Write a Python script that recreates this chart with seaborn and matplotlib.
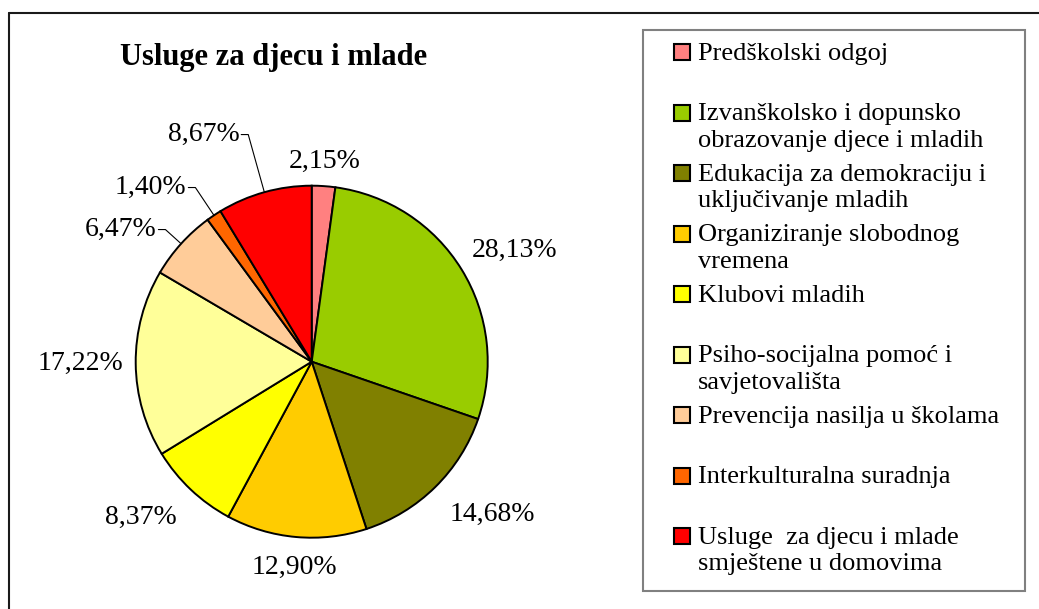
import numpy as np
import matplotlib
matplotlib.use('Agg')
import matplotlib.pyplot as plt
from matplotlib.patches import Rectangle
from matplotlib.lines import Line2D
import seaborn as sns

# ── Data ──────────────────────────────────────────────────────────────────────
title = 'Usluge za djecu i mlade'
categories = [
    'Predškolski odgoj',
    'Izvanškolsko i dopunsko\nobrazovanje djece i mladih',
    'Edukacija za demokraciju i\nuključivanje mladih',
    'Organiziranje slobodnog\nvremena',
    'Klubovi mladih',
    'Psiho-socijalna pomoć i\nsavjetovališta',
    'Prevencija nasilja u školama',
    'Interkulturalna suradnja',
    'Usluge  za djecu i mlade\nsmještene u domovima',
]
shares = [2.15, 28.13, 14.68, 12.90, 8.37, 17.22, 6.47, 1.40, 8.67]
colors = ['#FF8080', '#99CC00', '#808000', '#FFCC00', '#FFFF00',
          '#FFFF99', '#FFCC99', '#FF6600', '#FF0000']

# label placement (in pie radii); last three get leader lines
label_dist = [1.07, 1.07, 1.12, 1.10, 1.12, 1.07, 1.12, 1.19, 1.34]
uses_leader = [False] * 6 + [True] * 3

# ── Style ─────────────────────────────────────────────────────────────────────
sns.set_theme(style='white')
plt.rcParams['font.family'] = ['Liberation Serif', 'DejaVu Serif']
plt.rcParams['text.color'] = 'black'

W, H = 1039, 609
fig = plt.figure(figsize=(W / 100, H / 100), dpi=100)
fig.patch.set_facecolor('white')


def fx(px):
    return px / W


def fy(py):
    return 1 - py / H


# ── Pie ───────────────────────────────────────────────────────────────────────
cx, cy, r = 311.7, 361.7, 176
ax = fig.add_axes([fx(cx - r), fy(cy + r), 2 * r / W, 2 * r / H])
wedges, _ = ax.pie(shares, colors=colors, startangle=90, counterclock=False,
                   wedgeprops=dict(edgecolor='black', linewidth=1.4))

for w, v, d, lead in zip(wedges, shares, label_dist, uses_leader):
    mid = np.deg2rad((w.theta1 + w.theta2) / 2)
    ux, uy = np.cos(mid), np.sin(mid)
    txt = f'{v:.2f}'.replace('.', ',') + '%'
    if lead:
        ex, ey = d * ux, d * uy
        ax.plot([ex - 0.04, ex, ux], [ey, ey, uy], color='black', lw=0.8,
                clip_on=False)
        ax.text(ex - 0.05, ey, txt, ha='right', va='center', fontsize=20,
                color='black', clip_on=False)
    else:
        ha = 'left' if ux > 0.3 else ('right' if ux < -0.3 else 'center')
        va = 'bottom' if uy > 0.3 else ('top' if uy < -0.3 else 'center')
        ax.text(d * ux, d * uy, txt, ha=ha, va=va, fontsize=20, color='black')

ax.set_xlim(-1, 1)
ax.set_ylim(-1, 1)
ax.axis('off')

# ── Title ─────────────────────────────────────────────────────────────────────
fig.text(fx(274), fy(65), title, ha='center', va='baseline',
         fontsize=22, fontweight='bold', color='black')

# ── Legend (Excel-style, evenly spaced slots) ─────────────────────────────────
fig.add_artist(Rectangle((fx(643), fy(591)), fx(1025) - fx(643), fy(30) - fy(591),
                         transform=fig.transFigure, fill=False,
                         edgecolor='#808080', lw=1.5))
for i, (lab, col) in enumerate(zip(categories, colors)):
    yc = 52 + 60.5 * i
    fig.add_artist(Rectangle((fx(674), fy(yc + 8)), 16 / W, 16 / H,
                             transform=fig.transFigure, facecolor=col,
                             edgecolor='black', lw=1.5))
    fig.text(fx(698), fy(yc - 9.3), lab, ha='left', va='top',
             fontsize=19, linespacing=1.27, color='black')

# ── Outer chart border ────────────────────────────────────────────────────────
fig.add_artist(Line2D([fx(9), 1], [fy(13), fy(13)], color='#1a1a1a', lw=1.5,
                      transform=fig.transFigure))
fig.add_artist(Line2D([fx(9), fx(9)], [fy(13), 0], color='#1a1a1a', lw=1.5,
                      transform=fig.transFigure))

fig.savefig('out.png', dpi=100, facecolor='white')
plt.close(fig)
